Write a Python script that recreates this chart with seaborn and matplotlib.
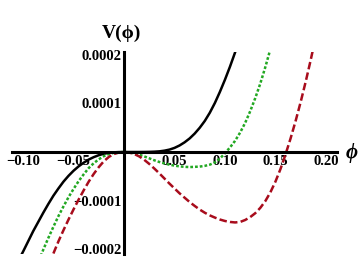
import numpy as np
import pandas as pd
import matplotlib
matplotlib.use("Agg")
import matplotlib.pyplot as plt
import seaborn as sns
from matplotlib.ticker import MultipleLocator

# values, V in units of 1e-6
phi_black = [-0.102, -0.100, -0.095, -0.090, -0.085, -0.080, -0.075, -0.070, -0.065, -0.060,
             -0.055, -0.050, -0.045, -0.040, -0.035, -0.030, -0.025, -0.020, -0.015, -0.010,
             -0.005, 0.000, 0.005, 0.010, 0.015, 0.020, 0.025, 0.030, 0.035, 0.040,
             0.045, 0.050, 0.055, 0.060, 0.065, 0.070, 0.075, 0.080, 0.085, 0.090,
             0.095, 0.100, 0.105, 0.110, 0.112]
v_black = [-213, -205, -184, -163, -144, -125, -107, -90, -75, -61,
           -49, -38.5, -29.5, -22, -15.5, -10.5, -6.5, -3.5, -1.6, -0.6,
           -0.1, 0, 0, 0, 0, 0.1, 0.3, 0.7, 1.4, 2.8,
           5, 8.5, 13.5, 20, 28, 38, 50, 64, 81, 101,
           124, 149, 176, 205, 217]

phi_green = [-0.0825, -0.080, -0.075, -0.070, -0.065, -0.060, -0.055, -0.050, -0.045, -0.040,
             -0.035, -0.030, -0.025, -0.020, -0.015, -0.010, -0.005, 0.000, 0.005, 0.010,
             0.015, 0.020, 0.025, 0.030, 0.035, 0.040, 0.045, 0.050, 0.055, 0.060,
             0.065, 0.070, 0.075, 0.080, 0.085, 0.090, 0.095, 0.100, 0.105, 0.110,
             0.115, 0.120, 0.125, 0.130, 0.135, 0.140, 0.145]
v_green = [-214, -201, -177, -154, -132, -112, -93, -76, -60, -46,
           -33, -23, -15, -8.5, -4, -1.5, -0.4, 0, -0.6, -2.5,
           -5.5, -9, -13, -17, -20.5, -23.5, -26, -28, -29.5, -30.5,
           -31, -30.5, -30, -28.5, -26, -21.5, -13.5, -2.5, 9.5, 23,
           40, 60, 84, 111, 141, 175, 212]

phi_red = [-0.070, -0.065, -0.060, -0.055, -0.050, -0.045, -0.040, -0.035, -0.030, -0.025,
           -0.020, -0.015, -0.010, -0.005, 0.000, 0.005, 0.010, 0.015, 0.020, 0.025,
           0.030, 0.035, 0.040, 0.045, 0.050, 0.055, 0.060, 0.065, 0.070, 0.075,
           0.080, 0.085, 0.090, 0.095, 0.100, 0.105, 0.110, 0.115, 0.120, 0.125,
           0.130, 0.135, 0.140, 0.145, 0.150, 0.155, 0.160, 0.165, 0.170, 0.175,
           0.180, 0.185, 0.190]
v_red = [-209, -184, -161, -139, -118, -98, -79, -61, -45, -31,
         -19, -10, -4, -1, 0, -1, -4, -9, -16, -24.5,
         -34, -44, -54.5, -65, -75, -85, -94, -103, -111, -118.5,
         -125, -130.5, -135, -139, -142, -144, -145, -144, -140, -134,
         -126, -115, -101, -83, -61, -35, -5, 28, 64, 103,
         145, 190, 238]

x_ticks = [-0.10, -0.05, 0.05, 0.10, 0.15, 0.20]
x_labels = ["\u22120.10", "\u22120.05", "0.05", "0.10", "0.15", "0.20"]
y_ticks = [-0.0002, -0.0001, 0.0001, 0.0002]
y_labels = ["\u22120.0002", "\u22120.0001", "0.0001", "0.0002"]

sns.set_style("white")
plt.rcParams["font.family"] = ["Liberation Serif", "DejaVu Serif"]
plt.rcParams["font.weight"] = "bold"
plt.rcParams["text.color"] = "black"
plt.rcParams["axes.edgecolor"] = "black"
plt.rcParams["xtick.color"] = "black"
plt.rcParams["ytick.color"] = "black"

fig = plt.figure(figsize=(3.6, 2.58), dpi=100)
ax = fig.add_axes([12 / 360, 4 / 258, 325 / 360, 202 / 258])

sns.lineplot(x=np.array(phi_black), y=np.array(v_black) * 1e-6, color="black",
             linewidth=1.8, sort=False, ax=ax)
sns.lineplot(x=np.array(phi_green), y=np.array(v_green) * 1e-6, color="#22a822",
             linewidth=1.8, linestyle=(0, (1.1, 0.8)), sort=False, ax=ax)
sns.lineplot(x=np.array(phi_red), y=np.array(v_red) * 1e-6, color="#a80c1c",
             linewidth=1.8, linestyle=(0, (3.0, 1.3)), sort=False, ax=ax)

ax.set_xlim(-0.111, 0.211)
ax.set_ylim(-0.00021, 0.000206)

for s in ["top", "right"]:
    ax.spines[s].set_visible(False)
ax.spines["left"].set_position(("data", 0))
ax.spines["bottom"].set_position(("data", 0))
ax.spines["left"].set_linewidth(2.2)
ax.spines["bottom"].set_linewidth(2.2)
ax.spines["left"].set_color("black")
ax.spines["bottom"].set_color("black")

ax.set_xticks(x_ticks)
ax.set_xticklabels(x_labels)
ax.set_yticks(y_ticks)
ax.set_yticklabels(y_labels)
ax.xaxis.set_minor_locator(MultipleLocator(0.01))
ax.yaxis.set_minor_locator(MultipleLocator(0.00002))
ax.tick_params(which="both", direction="in", width=1.4, colors="black", labelsize=10.5, pad=2)
ax.tick_params(which="major", length=4)
ax.tick_params(which="minor", length=2.5)
for lab in ax.get_xticklabels() + ax.get_yticklabels():
    lab.set_fontweight("bold")
ax.set_xlabel("")
ax.set_ylabel("")

fig.text(121 / 360, 1 - 33 / 258, "V(\u03d5)", ha="center", va="center",
         fontsize=14, fontweight="bold", color="black")
fig.text(352 / 360, 1 - 153 / 258, "\u03d5", ha="center", va="center",
         fontsize=15, fontweight="bold", style="italic", color="black")

fig.savefig("out.png", dpi=100)
